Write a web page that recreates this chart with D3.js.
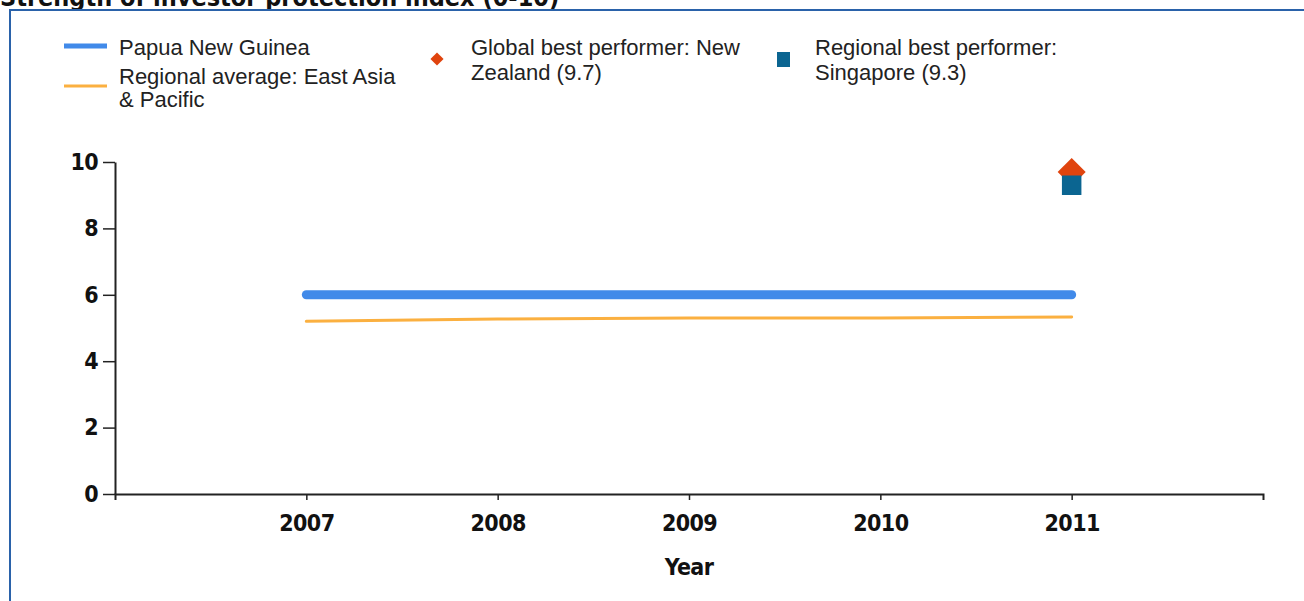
<!DOCTYPE html>
<html>
<head>
<meta charset="utf-8">
<script src="https://cdn.jsdelivr.net/npm/d3@7"></script>
<style>
  body { margin: 0; background: #fff; }
  svg { display: block; }
  .tick text { font-family: "DejaVu Sans Condensed", "DejaVu Sans", sans-serif; font-weight: bold; font-size: 23px; letter-spacing: -0.6px; fill: #111; }
  .legend text { font-family: "Liberation Sans", Arial, sans-serif; font-size: 22px; fill: #222; }
</style>
</head>
<body>
<script>
var years = [2007, 2008, 2009, 2010, 2011];
var countryValues = [6, 6, 6, 6, 6];
var regionalValues = [5.2, 5.27, 5.3, 5.3, 5.33];
var globalBest = { year: 2011, value: 9.7 };
var regionalBest = { year: 2011, value: 9.3 };
var yTicks = [0, 2, 4, 6, 8, 10];

var width = 1304;
var height = 601;

var svg = d3.select("body")
    .append("svg")
    .attr("width", width)
    .attr("height", height);

// title, partly cut off at the top as in the source
svg.append("text")
    .attr("x", 0)
    .attr("y", 6)
    .style("font-family", "DejaVu Sans Condensed, DejaVu Sans, sans-serif")
    .style("font-weight", "bold")
    .style("font-size", "25px")
    .style("fill", "#111")
    .text("Strength of investor protection index (0-10)");

// frame
svg.append("path")
    .attr("d", "M10," + height + "V10H" + width)
    .attr("fill", "none")
    .attr("stroke", "#2a62aa")
    .attr("stroke-width", 2);

var x = d3.scaleLinear().domain([2006, 2012]).range([115, 1263]);
var y = d3.scaleLinear().domain([0, 10]).range([494, 162]);

var xAxis = svg.append("g")
    .attr("transform", "translate(0,494)")
    .call(d3.axisBottom(x)
        .tickValues(years)
        .tickFormat(d3.format("d"))
        .tickSize(6)
        .tickSizeOuter(6)
        .tickPadding(15));
xAxis.select(".domain").attr("stroke", "#222").attr("stroke-width", 2);

var yAxis = svg.append("g")
    .attr("transform", "translate(115,0)")
    .call(d3.axisLeft(y)
        .tickValues(yTicks)
        .tickSize(12)
        .tickSizeOuter(0)
        .tickPadding(5));
yAxis.select(".domain").attr("stroke", "#222").attr("stroke-width", 2);
svg.selectAll(".tick line").attr("stroke", "#222").attr("stroke-width", 1.5);

svg.append("text")
    .attr("x", 689)
    .attr("y", 575)
    .attr("text-anchor", "middle")
    .style("font-family", "DejaVu Sans Condensed, DejaVu Sans, sans-serif")
    .style("font-weight", "bold")
    .style("font-size", "23px")
    .style("letter-spacing", "-0.6px")
    .style("fill", "#111")
    .text("Year");

var line = d3.line()
    .x(function (d, i) { return x(years[i]); })
    .y(function (d) { return y(d); });

svg.append("path")
    .datum(regionalValues)
    .attr("d", line)
    .attr("fill", "none")
    .attr("stroke", "#fbb040")
    .attr("stroke-width", 3)
    .attr("stroke-linecap", "round");

svg.append("path")
    .datum(countryValues)
    .attr("d", line)
    .attr("fill", "none")
    .attr("stroke", "#418ae9")
    .attr("stroke-width", 9)
    .attr("stroke-linecap", "round");

svg.append("path")
    .attr("d", d3.symbol().type(d3.symbolDiamond2).size(500)())
    .attr("transform", "translate(" + x(globalBest.year) + "," + y(globalBest.value) + ")")
    .attr("fill", "#e0440e");

svg.append("path")
    .attr("d", d3.symbol().type(d3.symbolSquare).size(380)())
    .attr("transform", "translate(" + x(regionalBest.year) + "," + y(regionalBest.value) + ")")
    .attr("fill", "#0b6591");

// legend
var legend = svg.append("g").attr("class", "legend");

legend.append("line")
    .attr("x1", 64).attr("x2", 107).attr("y1", 46).attr("y2", 46)
    .attr("stroke", "#418ae9").attr("stroke-width", 5);
legend.append("text").attr("x", 119).attr("y", 55).text("Papua New Guinea");

legend.append("line")
    .attr("x1", 64).attr("x2", 107).attr("y1", 86).attr("y2", 86)
    .attr("stroke", "#fbb040").attr("stroke-width", 3);
legend.append("text").attr("x", 119).attr("y", 84).text("Regional average: East Asia");
legend.append("text").attr("x", 119).attr("y", 107).text("& Pacific");

legend.append("path")
    .attr("d", d3.symbol().type(d3.symbolDiamond2).size(110)())
    .attr("transform", "translate(437,59)")
    .attr("fill", "#e0440e");
legend.append("text").attr("x", 471).attr("y", 55).text("Global best performer: New");
legend.append("text").attr("x", 471).attr("y", 80).text("Zealand (9.7)");

legend.append("rect")
    .attr("x", 777).attr("y", 52).attr("width", 13).attr("height", 15)
    .attr("fill", "#0b6591");
legend.append("text").attr("x", 815).attr("y", 55).text("Regional best performer:");
legend.append("text").attr("x", 815).attr("y", 80).text("Singapore (9.3)");
</script>
</body>
</html>
